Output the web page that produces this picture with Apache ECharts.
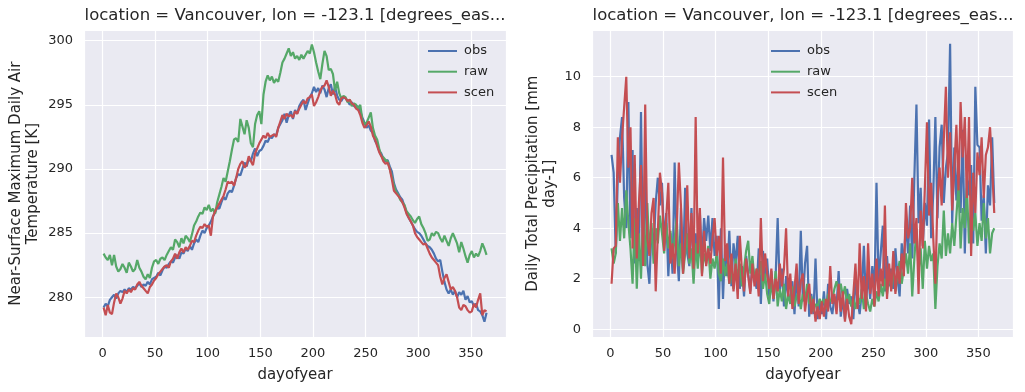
<!DOCTYPE html>
<html>
<head>
<meta charset="utf-8">
<script src="https://cdn.jsdelivr.net/npm/echarts@6/dist/echarts.min.js"></script>
<style>
  html, body { margin: 0; padding: 0; background: #ffffff; }
  #main { width: 1025px; height: 392px; }
</style>
</head>
<body>
<div id="main"></div>
<script>
// day of year, every second day
var days = [];
for (var d = 1; d <= 365; d += 2) days.push(d);

// tasmax [K]
var tasObs = [
  279.2, 279.5, 279.3, 279.8, 280.0,  280.2, 279.9, 280.3, 280.5, 280.4,
  280.6, 280.4, 280.7, 280.6, 280.8,  280.7, 280.9, 281.1, 280.8, 281.0,
  280.9, 281.2, 281.0, 281.4, 281.5,  281.6, 281.9, 281.7, 282.1, 282.4,
  282.3, 282.6, 282.8, 282.7, 283.1,  283.3, 283.0, 283.5, 283.4, 283.8,
  283.6, 284.0, 283.7, 284.2, 284.5,  284.3, 284.8, 285.2, 285.0, 285.4,
  285.6, 285.9, 286.3, 286.6, 287.0,  286.9, 287.4, 287.8, 287.6, 288.1,
  288.3, 288.2, 288.7, 289.3, 289.6,  289.5, 290.0, 290.5, 290.2, 290.8,
  290.6, 291.2, 291.6, 291.0, 291.4,  291.5, 291.8, 292.2, 292.1, 292.5,
  292.4, 292.7, 292.6, 293.2, 293.5,  293.8, 294.3, 293.6, 294.2, 294.5,
  293.9, 294.6, 294.3, 294.9, 295.2,  295.4, 294.6, 295.1, 295.6, 295.9,
  296.4, 296.0, 296.3, 295.9, 296.5,  296.2, 295.6, 296.3, 296.6, 295.8,
  296.4, 295.7, 295.4, 295.3, 295.6,  295.5, 295.3, 295.0, 295.2, 294.9,
  294.8, 294.9, 294.5, 294.0, 293.6,  293.2, 293.4, 293.0, 292.8, 292.2,
  291.9, 291.4, 291.2, 290.8, 290.6,  290.7, 290.2, 289.8, 288.9, 288.4,
  288.1, 287.8, 287.6, 287.1, 286.6,  286.2, 285.9, 285.6, 285.3, 285.1,
  285.0, 284.8, 284.5, 284.2, 284.0,  283.9, 283.7, 283.4, 283.0, 282.8,
  282.9, 282.0, 281.2, 280.6, 280.3,  280.6, 280.2, 280.5, 280.0, 280.4,
  280.2, 280.5, 279.8, 280.1, 279.6,  279.7, 279.3, 279.5, 279.0, 278.9,
  278.6, 278.1, 278.8
];
var tasRaw = [
  283.4, 283.1, 282.9, 283.3, 282.5,  283.3, 282.4, 282.0, 282.2, 282.6,
  282.3, 281.9, 282.7, 282.4, 282.0,  282.2, 282.9, 282.3, 282.0, 281.6,
  281.4, 281.8, 281.5, 282.3, 282.8,  282.9, 282.6, 283.0, 283.1, 282.9,
  283.3, 283.6, 283.9, 283.7, 284.5,  284.3, 283.9, 284.6, 284.2, 284.8,
  284.6, 284.3, 284.9, 285.6, 285.9,  286.3, 286.6, 286.5, 287.0, 286.8,
  287.2, 286.7, 286.9, 286.5, 287.4,  288.0, 288.6, 289.3, 289.0, 289.8,
  290.6, 291.5, 292.3, 292.4, 292.1,  293.9, 293.3, 292.7, 293.8, 293.2,
  292.0, 291.7, 293.5, 294.2, 294.5,  293.5, 295.8, 296.8, 297.3, 296.9,
  297.2, 296.7, 297.0, 296.8, 297.5,  298.3, 298.6, 299.0, 299.4, 298.8,
  299.1, 298.6, 298.8, 298.5, 298.9,  298.6, 298.9, 299.2, 299.0, 299.7,
  299.1, 298.3, 297.6, 297.0, 298.2,  299.2, 298.8, 297.7, 297.8, 297.4,
  296.1, 296.8, 295.9, 295.5, 295.7,  295.6, 295.2, 295.4, 294.9, 295.1,
  295.0, 294.7, 295.0, 293.8, 293.5,  293.6, 294.0, 294.4, 293.2, 292.6,
  292.3, 291.6, 291.0, 290.9, 290.7,  290.6, 290.0, 289.4, 288.7, 288.2,
  288.0, 287.6, 287.4, 287.2, 286.7,  286.5, 286.3, 286.0, 285.8, 286.1,
  286.3, 285.7, 285.4, 285.0, 284.4,  284.5, 285.0, 284.8, 285.1, 285.0,
  284.6, 284.3, 284.8, 284.4, 284.0,  284.6, 285.0, 284.6, 284.2, 283.5,
  284.3, 283.8, 283.2, 282.7, 283.3,  283.6, 283.1, 283.4, 283.2, 283.6,
  284.2, 283.8, 283.3
];
var tasScen = [
  279.2, 278.6, 279.4, 278.8, 278.7,  279.6, 280.3, 280.0, 279.5, 279.9,
  280.5, 280.3, 280.6, 280.4, 280.7,  280.6, 281.0, 281.2, 280.9, 280.7,
  280.5, 280.3, 280.8, 281.0, 281.3,  281.5, 281.8, 282.0, 282.2, 282.4,
  282.5, 282.3, 282.8, 283.0, 283.4,  283.0, 283.5, 283.8, 283.5, 283.9,
  283.7, 284.0, 284.4, 284.3, 284.8,  285.2, 285.5, 285.4, 285.7, 285.5,
  285.6, 284.8, 286.3, 286.7, 287.0,  287.3, 287.6, 287.9, 288.4, 289.0,
  288.9, 289.0, 288.7, 289.3, 290.0,  290.4, 290.6, 290.1, 290.3, 291.0,
  290.6, 290.3, 291.2, 291.6, 292.0,  292.3, 292.6, 292.4, 292.8, 292.5,
  292.6, 292.7, 292.5, 293.2, 293.7,  294.2, 293.9, 294.3, 294.1, 294.2,
  294.0, 294.5, 294.3, 294.7, 295.0,  295.3, 295.1, 295.5, 295.6, 295.8,
  294.9, 295.2, 295.6, 296.1, 296.4,  296.5, 296.9, 296.4, 295.7, 296.1,
  295.8, 295.2, 295.0, 295.5, 295.6,  295.5, 295.3, 295.4, 295.1, 295.0,
  294.7, 294.6, 294.2, 293.6, 293.2,  293.4, 293.7, 293.3, 292.6, 292.3,
  291.8, 291.3, 291.0, 290.6, 290.4,  290.5, 290.0, 289.2, 288.3, 288.1,
  287.9, 287.7, 287.4, 287.0, 286.5,  286.2, 285.9, 285.6, 285.0, 284.7,
  284.5, 284.3, 284.1, 284.2, 283.8,  283.4, 283.1, 282.9, 282.7, 282.5,
  281.6, 281.0, 281.5, 281.8, 281.2,  280.6, 280.8, 280.5, 280.0, 279.2,
  279.0, 279.4, 279.3, 279.0, 278.8,  278.9, 279.5, 279.2, 279.8, 280.3,
  278.6, 279.0, 278.9
];

// pr [mm day-1]
var prObs = [
  6.9, 6.2, 3.0, 6.1, 7.6,  8.4, 5.2, 4.0, 9.0, 3.6,
  7.1, 2.6, 4.8, 2.7, 8.6,  2.6, 6.4, 2.6, 1.8, 4.0,
  3.2, 5.0, 6.0, 4.9, 5.8,  3.4, 4.6, 2.1, 3.8, 2.2,
  6.6, 3.2, 1.9, 4.8, 2.4,  5.6, 3.0, 2.5, 4.8, 2.2,
  3.8, 2.8, 4.6, 2.7, 4.4,  3.5, 4.5, 3.1, 4.4, 2.9,
  3.7, 0.8, 4.0, 1.2, 3.3,  2.1, 3.9, 1.7, 3.4, 2.6,
  3.7, 1.6, 2.5, 1.3, 2.9,  2.2, 1.5, 2.6, 2.0, 1.6,
  3.2, 1.0, 3.1, 1.9, 2.8,  1.3, 2.3, 1.1, 2.0, 4.4,
  1.5, 2.4, 0.9, 2.1, 1.2,  1.3, 1.9, 0.6, 2.2, 0.9,
  3.9, 1.1, 2.6, 3.3, 0.5,  1.4, 0.6, 2.8, 0.4, 1.1,
  0.6, 1.5, 0.4, 1.8, 0.9,  0.6, 1.3, 0.9, 2.3, 0.5,
  1.2, 0.4, 1.6, 1.0, 1.3,  0.4, 2.0, 1.1, 0.6, 1.5,
  3.3, 1.0, 2.2, 1.2, 2.5,  1.4, 5.8, 1.8, 3.0, 4.1,
  1.5, 2.9, 1.7, 2.4, 1.6,  3.2, 2.0, 1.3, 3.4, 2.5,
  4.3, 3.0, 4.9, 2.8, 6.0,  8.9, 4.2, 5.6, 3.3, 5.0,
  4.1, 8.3, 3.6, 5.4, 8.4,  4.4, 7.2, 8.1, 5.0, 6.4,
  7.0, 11.3, 4.2, 7.2, 5.1,  6.8, 4.6, 7.9, 3.0, 6.2,
  5.3, 6.5, 3.4, 9.6, 7.3,  7.2, 4.3, 5.3, 3.0, 5.7,
  4.9, 7.6, 5.0
];
var prRaw = [
  3.2, 2.6, 3.0, 5.0, 3.5,  4.8, 3.6, 5.5, 4.2, 3.2,
  1.8, 4.4, 1.6, 3.8, 2.0,  4.6, 2.5, 5.0, 3.0, 4.2,
  2.6, 4.0, 3.4, 4.5, 3.8,  3.0, 4.2, 3.2, 3.9, 2.8,
  3.6, 4.4, 2.5, 3.4, 2.2,  3.0, 3.8, 2.6, 3.2, 1.8,
  3.4, 2.4, 3.6, 2.2, 3.0,  2.6, 3.3, 2.0, 2.8, 2.4,
  3.0, 2.2, 1.9, 2.8, 2.1,  2.6, 1.8, 2.3, 1.6, 2.8,
  2.0, 2.6, 1.7, 2.4, 3.1,  3.5, 2.2, 2.9, 1.9, 2.4,
  2.0, 2.7, 1.6, 2.2, 1.4,  1.0, 1.9, 1.2, 2.3, 0.9,
  1.6, 1.1, 1.8, 0.8, 1.4,  1.0, 1.7, 0.9, 1.3, 1.5,
  0.8, 1.4, 1.1, 1.8, 1.0,  1.3, 0.7, 1.0, 0.9, 1.2,
  1.0, 1.2, 0.8, 1.4, 1.1,  1.2, 1.6, 1.9, 1.5, 1.8,
  1.3, 1.7, 1.0, 1.4, 0.9,  1.2, 0.8, 1.3, 1.0, 1.6,
  0.8, 1.4, 1.0, 0.7, 1.2,  0.9, 1.5, 1.1, 1.8, 1.3,
  2.0, 1.4, 2.2, 1.6, 2.5,  1.5, 2.2, 2.7, 1.8, 2.4,
  3.0, 2.2, 3.4, 1.3, 2.8,  4.0, 2.3, 3.2, 1.6, 3.5,
  2.4, 3.3, 2.7, 3.0, 0.8,  2.5, 3.4, 2.8, 4.7, 2.9,
  3.8, 3.0, 4.2, 3.3, 4.5,  5.7, 3.2, 4.8, 4.0, 5.6,
  3.4, 5.0, 3.9, 4.6, 3.3,  4.2, 3.5, 5.0, 3.6, 4.4,
  3.0, 3.8, 4.0
];
var prScen = [
  1.8, 3.2, 3.3, 7.6, 5.8,  7.6, 8.8, 10.0, 6.4, 8.0,
  3.2, 6.9, 2.8, 5.0, 6.5,  2.5, 8.9, 3.6, 2.9, 4.6,
  5.2, 1.5, 3.8, 6.2, 5.4,  3.1, 4.4, 5.8, 2.6, 3.4,
  2.2, 4.0, 6.6, 4.9, 2.2,  3.4, 5.7, 2.8, 4.6, 2.4,
  8.4, 3.0, 4.8, 2.1, 3.9,  2.5, 3.2, 2.6, 3.6, 4.4,
  2.9, 3.7, 2.2, 6.8, 2.7,  3.4, 1.8, 3.0, 1.5, 2.6,
  1.2, 3.7, 2.3, 1.5, 2.8,  2.1, 1.4, 2.6, 1.7, 2.4,
  1.3, 4.4, 1.9, 3.0, 2.2,  1.6, 2.4, 1.2, 2.0, 1.5,
  2.6, 1.7, 2.4, 4.0, 1.3,  2.2, 0.8, 1.6, 2.6, 1.0,
  1.9, 2.2, 0.7, 1.4, 1.8,  0.6, 1.2, 0.3, 0.9, 0.4,
  1.1, 0.5, 1.2, 0.7, 2.5,  1.0, 1.4, 0.6, 1.8, 0.7,
  1.5, 0.3, 1.2, 0.5, 0.2,  1.4, 2.6, 0.8, 3.4, 1.2,
  2.1, 0.7, 3.4, 1.4, 2.2,  0.9, 2.8, 1.3, 2.4, 1.7,
  4.9, 1.2, 2.6, 1.5, 3.1,  1.4, 2.5, 1.8, 3.0, 2.1,
  5.0, 3.6, 4.0, 6.0, 3.4,  4.4, 1.4, 4.7, 3.2, 5.6,
  8.2, 4.5, 5.8, 3.6, 1.8,  5.2, 6.4, 4.9, 7.5, 9.6,
  6.0, 7.8, 4.7, 6.4, 8.1,  5.5, 9.0, 6.8, 8.4, 5.2,
  8.4, 2.9, 6.2, 4.6, 7.0,  6.1, 7.6, 5.2, 6.9, 7.2,
  8.0, 6.4, 4.6
];

var seriesNames = ["obs", "raw", "scen"];
var seriesColors = ["#4C72B0", "#55A868", "#C44E52"];
var titleText = "location = Vancouver, lon = -123.1 [degrees_eas...";
var txt = "#262626";
var font = "DejaVu Sans";

function pairs(vals) {
  return vals.map(function(v, i) { return [days[i], v]; });
}

function lineSeries(name, idx, vals, color) {
  return {
    name: name,
    type: "line",
    xAxisIndex: idx,
    yAxisIndex: idx,
    showSymbol: false,
    symbol: "none",
    animation: false,
    lineStyle: { color: color, width: 2.2 },
    itemStyle: { color: color },
    data: pairs(vals)
  };
}

function xAxisCfg(idx) {
  return {
    type: "value",
    gridIndex: idx,
    min: -17.6,
    max: 383.5,
    minInterval: 50,
    maxInterval: 50,
    name: "dayofyear",
    nameLocation: "middle",
    nameGap: 30,
    nameTextStyle: { color: txt, fontSize: 15, fontFamily: font },
    axisLine: { show: false },
    axisTick: { show: false },
    axisLabel: {
      color: txt, fontSize: 13, fontFamily: font, margin: 10,
      showMinLabel: false, showMaxLabel: false,
      formatter: function(v) { return v % 50 === 0 ? String(v) : ""; }
    },
    splitLine: { show: true, lineStyle: { color: "#ffffff", width: 1.2 } }
  };
}

function yAxisCfg(idx, name, min, max, step, gap) {
  return {
    type: "value",
    gridIndex: idx,
    min: min,
    max: max,
    minInterval: step,
    maxInterval: step,
    name: name,
    nameLocation: "middle",
    nameRotate: 90,
    nameGap: gap,
    nameTextStyle: { color: txt, fontSize: 15, lineHeight: 17, fontFamily: font },
    axisLine: { show: false },
    axisTick: { show: false },
    axisLabel: {
      color: txt, fontSize: 13, fontFamily: font, margin: 11,
      showMinLabel: false, showMaxLabel: false,
      formatter: function(v) { return v % step === 0 ? String(v) : ""; }
    },
    splitLine: { show: true, lineStyle: { color: "#ffffff", width: 1.2 } }
  };
}

function legendCfg(left) {
  return {
    data: seriesNames,
    orient: "vertical",
    left: left,
    top: 38,
    icon: "rect",
    itemWidth: 29,
    itemHeight: 2,
    itemGap: 4.7,
    selectedMode: false,
    textStyle: { color: txt, fontSize: 13, fontFamily: font, lineHeight: 16, padding: [0, 0, 0, 2] }
  };
}

var myChart = echarts.init(document.getElementById("main"), null, { renderer: "canvas" });
var option = {
  backgroundColor: "#ffffff",
  animation: false,
  title: [
    { text: titleText, left: 295, top: 7, padding: 0, textAlign: "center",
      textStyle: { color: txt, fontSize: 16.5, fontWeight: "normal", fontFamily: font } },
    { text: titleText, left: 803, top: 7, padding: 0, textAlign: "center",
      textStyle: { color: txt, fontSize: 16.5, fontWeight: "normal", fontFamily: font } }
  ],
  legend: [legendCfg(423), legendCfg(766)],
  grid: [
    { left: 84, top: 30, width: 422, height: 307.3, show: true, backgroundColor: "#EAEAF2",
      borderWidth: 0, containLabel: false, outerBoundsMode: "none" },
    { left: 592, top: 30, width: 421.7, height: 307.3, show: true, backgroundColor: "#EAEAF2",
      borderWidth: 0, containLabel: false, outerBoundsMode: "none" }
  ],
  xAxis: [xAxisCfg(0), xAxisCfg(1)],
  yAxis: [
    yAxisCfg(0, "Near-Surface Maximum Daily Air\nTemperature [K]", 276.88, 300.83, 5, 42.5),
    yAxisCfg(1, "Daily Total Precipitation [mm\nday-1]", -0.32, 11.85, 2, 33.5)
  ],
  series: [
    lineSeries("obs", 0, tasObs, seriesColors[0]),
    lineSeries("raw", 0, tasRaw, seriesColors[1]),
    lineSeries("scen", 0, tasScen, seriesColors[2]),
    lineSeries("obs", 1, prObs, seriesColors[0]),
    lineSeries("raw", 1, prRaw, seriesColors[1]),
    lineSeries("scen", 1, prScen, seriesColors[2])
  ]
};
myChart.setOption(option);
</script>
</body>
</html>
